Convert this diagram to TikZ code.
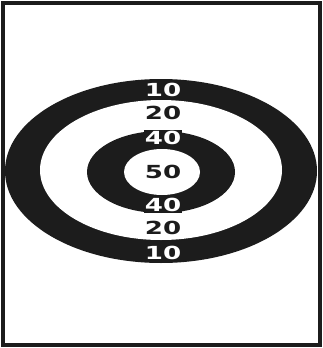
\documentclass[tikz,border=0pt]{standalone}
\usepackage{fontspec}
\setmainfont{DejaVu Sans}
\definecolor{ink}{HTML}{1C1C1C}
\newcommand\widetxt[1]{\scalebox{1.45}[1]{#1}}
\begin{document}
\begin{tikzpicture}[x=1pt,y=-1pt,
  lbl/.style={font=\bfseries\fontsize{18}{18}\selectfont, inner sep=1pt, text=ink},
  darklbl/.style={lbl, fill=ink, text=white},
  ring/.style={fill=ink, draw=none},
  hole/.style={fill=white, draw=none}]
\useasboundingbox (0,0) rectangle (323,348);
\fill[white] (0,0) rectangle (323,348);
\draw[line width=4pt, draw=ink] (3,3) rectangle (320,345);
\fill[ring] (161,171) ellipse [x radius=156, y radius=92];
\fill[hole] (161,170) ellipse [x radius=121, y radius=70];
\fill[ring] (161,172) ellipse [x radius=74, y radius=41];
\fill[hole] (162,172) ellipse [x radius=38, y radius=23];
\node[darklbl] (t10) at (163,90) {\widetxt{10}};
\node[lbl] (t20) at (163,113) {\widetxt{20}};
\node[darklbl] (t40) at (163,138) {\widetxt{40}};
\node[lbl] (c50) at (163,172) {\widetxt{50}};
\node[darklbl] (b40) at (163,205) {\widetxt{40}};
\node[lbl] (b20) at (163,228) {\widetxt{20}};
\node[darklbl] (b10) at (163,253) {\widetxt{10}};
\end{tikzpicture}
\end{document}
